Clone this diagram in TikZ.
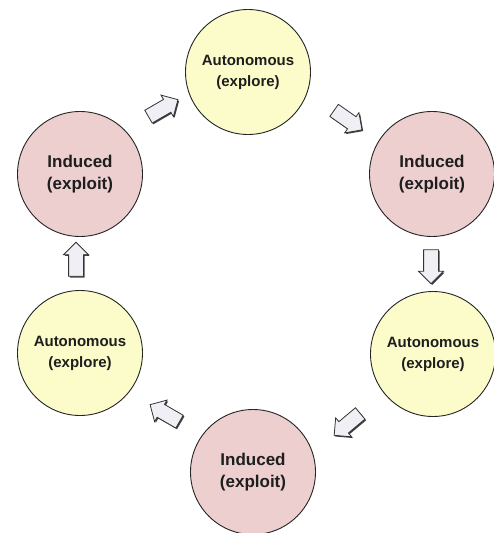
\documentclass[tikz,border=0pt]{standalone}
\usepackage{fontspec}
\setmainfont{Liberation Sans}
\usetikzlibrary{shapes.arrows,shadows}
\definecolor{exploreFill}{HTML}{FCFCCB}
\definecolor{exploitFill}{HTML}{EDCFCF}
\definecolor{arrowFill}{HTML}{EFEFF5}
\definecolor{inkText}{HTML}{1E1E1E}
\tikzset{
  phase/.style={circle, draw=black!85, line width=0.9pt, minimum size=125pt,
    inner sep=0pt, align=center, text=inkText, font=\bfseries},
  explore/.style={phase, fill=exploreFill, font=\bfseries\fontsize{15}{21}\selectfont},
  exploit/.style={phase, fill=exploitFill, font=\bfseries\fontsize{17}{22}\selectfont},
  flow/.style={single arrow, draw=black!80, line width=0.8pt, fill=arrowFill,
    minimum height=34pt, inner xsep=0pt, inner ysep=7pt,
    single arrow head extend=5pt, single arrow head indent=0pt,
    drop shadow={shadow xshift=1.2pt, shadow yshift=-1.2pt, fill=black!75, opacity=1}}
}
\begin{document}
\begin{tikzpicture}[x=1pt,y=-1pt]
  \useasboundingbox (0,0) rectangle (493,533);
  % cycle of phases
  \node[explore] (top)  at (248,72)  {Autonomous\\(explore)};
  \node[exploit] (ru)   at (432,174) {Induced\\(exploit)};
  \node[explore] (rl)   at (433,354) {Autonomous\\(explore)};
  \node[exploit] (bot)  at (253,472) {Induced\\(exploit)};
  \node[explore] (ll)   at (80,353)  {Autonomous\\(explore)};
  \node[exploit] (lu)   at (80,174)  {Induced\\(exploit)};
  % transition arrows
  \node[flow, rotate=30]   (a1) at (160,110) {};
  \node[flow, rotate=-35]  (a2) at (345,118) {};
  \node[flow, rotate=-90]  (a3) at (431,263) {};
  \node[flow, rotate=-140] (a4) at (350,422) {};
  \node[flow, rotate=150]  (a5) at (168,415) {};
  \node[flow, rotate=90]   (a6) at (76,263)  {};
\end{tikzpicture}
\end{document}
